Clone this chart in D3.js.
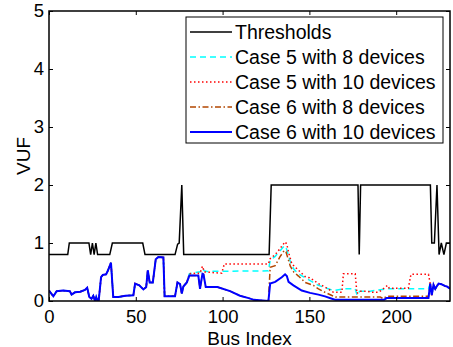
<!DOCTYPE html>
<html><head><meta charset="utf-8">
<script src="https://cdn.jsdelivr.net/npm/d3@7"></script>
<style>
html,body{margin:0;padding:0;background:#fff;}
text{font-family:"Liberation Sans",Arial,sans-serif;}
</style></head>
<body>
<svg id="c" width="453" height="347"></svg>
<script>
// ---- data (bus index, VUF) ----
const xTicks = [0, 50, 100, 150, 200];
const yTicks = [0, 1, 2, 3, 4, 5];
const seriesNames = ["Thresholds", "Case 5 with 8 devices", "Case 5 with 10 devices", "Case 6 with 8 devices", "Case 6 with 10 devices"];

const thresholds = [[0,0.8],[10.8,0.8],[11.7,1.0],[23,1.0],[24,0.8],[25,1.0],[26,0.8],[27,1.0],[28,0.8],[35,0.8],[36.5,1.0],[54,1.0],[55.3,0.8],[72.6,0.8],[74.1,0.98],[75,1.0],[76.5,2.0],[77.6,0.8],[126.8,0.8],[128,2.0],[178,2.0],[178.7,0.8],[179.5,2.0],[219.7,2.0],[220.5,1.0],[222,1.0],[223.5,2.0],[224.7,0.8],[226,1.0],[227.5,0.8],[228.9,1.0],[231,1.0]];

// common early part (all cases overlap)
const early = [[0,0.18],[2.5,0.08],[4.4,0.17],[8,0.18],[12,0.17],[13,0.11],[15,0.15],[18,0.16],[20.7,0.19],[22,0.23],[23.2,0.07],[24.5,0.04],[25.5,0.09],[26.5,0.0],[27.2,0.07],[28,0.0],[28.6,0.0],[30,0.41],[31,0.45],[32.9,0.46],[34,0.53],[35.7,0.66],[37,0.07],[40,0.07],[44,0.09],[48.6,0.1],[49.6,0.30],[52,0.27],[54.4,0.2],[56,0.24],[56.9,0.53],[58,0.32],[59.8,0.32],[61.5,0.72],[63,0.76],[65.9,0.75],[66.6,0.08],[72.6,0.08],[74,0.32],[75.5,0.29],[76.5,0.13],[77.4,0.25],[79.4,0.32]];

// common tail (all cases converge)
const tail = [[219.6,0.30],[220.5,0.10],[221.5,0.28],[222.5,0.21],[223.5,0.26],[224.4,0.30],[226,0.29],[228,0.26],[229.2,0.25],[231,0.21]];

const case6_10mid = [[80.9,0.44],[86,0.44],[87,0.21],[88.4,0.47],[89,0.46],[90.3,0.24],[97,0.24],[104.3,0.17],[110,0.09],[115,0.05],[118,0.02],[126.4,0.0],[127.4,0.30],[130.3,0.33],[134.1,0.41],[136,0.46],[137,0.43],[138,0.33],[140.8,0.27],[145.6,0.18],[150.4,0.14],[155.2,0.11],[159,0.08],[163,0.04],[165,0.02],[193,0.02],[194.5,0.05],[218.6,0.05]];

const case5_8mid = [[80.9,0.47],[86,0.50],[87,0.50],[88.4,0.56],[89.5,0.52],[91,0.51],[126.4,0.52],[127.4,0.70],[130.3,0.77],[133.5,0.88],[135.5,0.95],[136.5,0.93],[139,0.68],[141,0.55],[143.7,0.47],[147.6,0.40],[152.3,0.32],[155.2,0.27],[160,0.22],[164,0.18],[169.6,0.21],[176.4,0.21],[177.5,0.10],[179,0.17],[185,0.17],[194.5,0.21],[218.6,0.21]];

const case5_10mid = [[80.9,0.47],[85,0.48],[87,0.48],[88.4,0.60],[89.5,0.50],[99.5,0.48],[101,0.64],[126.4,0.64],[127.4,0.73],[130.3,0.80],[133,0.90],[136,1.02],[137,0.98],[138,0.84],[139.9,0.64],[143.7,0.53],[147.6,0.42],[150,0.40],[152.3,0.36],[155.2,0.30],[159,0.24],[163.9,0.15],[168.7,0.15],[169.6,0.47],[176.4,0.47],[177.4,0.13],[179,0.17],[183,0.17],[186,0.15],[189.8,0.15],[191.7,0.19],[195,0.27],[196,0.22],[207,0.22],[208.5,0.46],[218.6,0.46]];

const case6_8mid = [[80.9,0.44],[86,0.44],[87,0.21],[88.4,0.47],[89,0.46],[90.3,0.24],[97,0.24],[104.3,0.17],[110,0.09],[115,0.05],[118,0.02],[126.4,0.0],[127.4,0.58],[130.3,0.61],[133,0.76],[135.5,0.87],[136.5,0.85],[139,0.60],[141,0.50],[143.7,0.43],[147.6,0.32],[152.3,0.27],[155.2,0.21],[159,0.15],[163,0.095],[165,0.07],[190.8,0.07],[192.5,0.04],[194.5,0.08],[218.6,0.08]];

const case5_8 = early.concat(case5_8mid, tail);
const case5_10 = early.concat(case5_10mid, tail);
const case6_8 = early.concat(case6_8mid, tail);
const case6_10 = early.concat(case6_10mid, tail);

// ---- chart ----
const svg = d3.select("#c");
const L = 49, R = 450, T = 11, B = 301;
const FS = "19px", TFS = "18.5px";
const x = d3.scaleLinear().domain([0, 231]).range([L, R]);
const y = d3.scaleLinear().domain([0, 5]).range([B, T]);

const styles = [
  {data: thresholds, color: "#000000", width: 1.5, dash: null},
  {data: case5_8, color: "#00ffff", width: 1.5, dash: "6,4"},
  {data: case5_10, color: "#ff0000", width: 1.5, dash: "1.5,2.5"},
  {data: case6_8, color: "#b34700", width: 1.5, dash: "6,2.5,1.5,2.5"},
  {data: case6_10, color: "#0000ff", width: 2, dash: null}
];

svg.append("defs").append("clipPath").attr("id","clip")
  .append("rect").attr("x",L).attr("y",T).attr("width",R-L).attr("height",B-T);

const line = d3.line().x(d => x(d[0])).y(d => y(d[1]));
const g = svg.append("g").attr("clip-path","url(#clip)");
styles.forEach(s => {
  g.append("path").attr("d", line(s.data)).attr("fill","none")
    .attr("stroke", s.color).attr("stroke-width", s.width)
    .attr("stroke-dasharray", s.dash).attr("stroke-linejoin","miter");
});

// axes
function styleAxis(sel){
  sel.select(".domain").remove();
  sel.selectAll(".tick line").attr("stroke","#000").attr("stroke-width",1);
  sel.selectAll(".tick text").attr("fill","#000").style("font-size",TFS)
     .style("font-family",'"Liberation Sans",Arial,sans-serif');
}
const fmt = d3.format("d");
svg.append("g").attr("transform",`translate(0,${B})`)
  .call(d3.axisBottom(x).tickValues(xTicks).tickFormat(fmt).tickSizeInner(-4).tickSizeOuter(0).tickPadding(9))
  .call(styleAxis);
svg.append("g").attr("transform",`translate(0,${T})`)
  .call(d3.axisTop(x).tickValues(xTicks).tickSizeInner(-4).tickSizeOuter(0).tickFormat(""))
  .call(styleAxis);
svg.append("g").attr("transform",`translate(${L},0)`)
  .call(d3.axisLeft(y).tickValues(yTicks).tickFormat(fmt).tickSizeInner(-4).tickSizeOuter(0).tickPadding(5))
  .call(styleAxis);
svg.append("g").attr("transform",`translate(${R},0)`)
  .call(d3.axisRight(y).tickValues(yTicks).tickSizeInner(-4).tickSizeOuter(0).tickFormat(""))
  .call(styleAxis);

svg.append("rect").attr("x",L).attr("y",T).attr("width",R-L).attr("height",B-T)
  .attr("fill","none").attr("stroke","#000").attr("stroke-width",1.5);

// axis labels
svg.append("text").attr("x",(L+R)/2).attr("y",344.5).attr("text-anchor","middle")
  .style("font-size",FS).text("Bus Index");
svg.append("text").attr("transform",`translate(30,${(T+B)/2}) rotate(-90)`)
  .attr("text-anchor","middle").style("font-size",FS).text("VUF");

// legend
const lg = svg.append("g");
lg.append("rect").attr("x",186).attr("y",17).attr("width",257).attr("height",126)
  .attr("fill","#fff").attr("stroke","#000").attr("stroke-width",1);
styles.forEach((s,i) => {
  const yy = 32 + i*25;
  lg.append("line").attr("x1",190).attr("x2",232).attr("y1",yy).attr("y2",yy)
    .attr("stroke",s.color).attr("stroke-width",s.width).attr("stroke-dasharray",s.dash);
  lg.append("text").attr("x",235).attr("y",yy).attr("dy","0.35em")
    .style("font-size","19.5px").text(seriesNames[i]);
});
</script>
</body></html>
